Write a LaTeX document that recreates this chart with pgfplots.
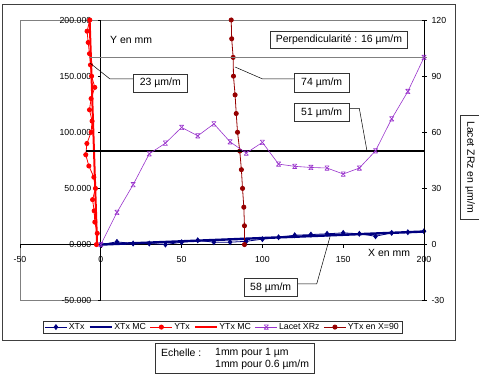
\documentclass[border=0pt]{standalone}
\usepackage{pgfplots}
\pgfplotsset{compat=1.18}
\usepackage{fontspec}
\setmainfont{Liberation Sans}

\definecolor{xtx}{RGB}{0,0,128}
\definecolor{ytx}{RGB}{255,0,0}
\definecolor{lacet}{RGB}{153,51,204}
\definecolor{ytxnn}{RGB}{150,0,0}
\definecolor{framegray}{RGB}{128,128,128}

% x marker closed by short bars top and bottom
\pgfdeclareplotmark{xbar}{%
  \pgfpathmoveto{\pgfqpoint{-\pgfplotmarksize}{-\pgfplotmarksize}}%
  \pgfpathlineto{\pgfqpoint{\pgfplotmarksize}{\pgfplotmarksize}}%
  \pgfpathmoveto{\pgfqpoint{-\pgfplotmarksize}{\pgfplotmarksize}}%
  \pgfpathlineto{\pgfqpoint{\pgfplotmarksize}{-\pgfplotmarksize}}%
  \pgfpathmoveto{\pgfqpoint{-\pgfplotmarksize}{\pgfplotmarksize}}%
  \pgfpathlineto{\pgfqpoint{\pgfplotmarksize}{\pgfplotmarksize}}%
  \pgfpathmoveto{\pgfqpoint{-\pgfplotmarksize}{-\pgfplotmarksize}}%
  \pgfpathlineto{\pgfqpoint{\pgfplotmarksize}{-\pgfplotmarksize}}%
  \pgfusepathqstroke}

\newcommand\smallfont{\fontsize{8.8}{10}\selectfont}
\newcommand\boxfont{\fontsize{10.5}{12.6}\selectfont}

% XTx : straightness along X (position mm, deviation um)
\pgfplotstableread{
x y
0 0
10 2.4
20 0.9
30 0.9
40 0
50 2.1
60 3.8
70 2.1
80 2.1
90 2.9
100 4.8
110 6.5
120 8.3
130 8.9
140 9.6
150 10.4
160 9.6
170 7.4
180 10.4
190 11.0
200 11.9
}\xtx

% YTx : straightness along Y (deviation um, position mm)
\pgfplotstableread{
x y
-2.7 0
-2.2 10
-3.7 20
-4.1 30
-5.1 40
-3.3 50
-4.3 60
-7.4 70
-9.3 80
-8.6 90
-6.0 100
-5.4 110
-7.0 120
-6.0 130
-3.7 140
-5.7 150
-6.4 160
-7.0 170
-7.8 180
-8.5 190
-6.8 200
}\ytx

% YTx measured at X=90
\pgfplotstableread{
x y
88.9 0
88.9 16.7
88.5 33.3
87.7 50
87.0 66.7
86.0 83.3
84.6 100
83.8 116.7
83.1 133.3
82.1 150
81.9 166.7
81.0 183.3
80.7 200
}\ytxnn

% Lacet XRz (um/m, right axis)
\pgfplotstableread{
x y
0 0
10 17.2
20 32
30 48.5
40 54.2
50 62.6
60 58.1
70 64.5
80 54.9
90 48.9
100 54.6
110 43.0
120 41.8
130 41.2
140 40.9
150 37.7
160 40.9
170 50.1
180 67.2
190 81.8
200 100
}\lacet

\begin{document}
\begin{tikzpicture}
\useasboundingbox (0,0) rectangle (479bp,377bp);

% frames (pixel-like coordinates, y downward)
\begin{scope}[shift={(0,377bp)}, x=1bp, y=-1bp]
  \draw[black!75, line width=0.8bp] (2,4) rectangle (455,340);
  \draw[framegray, line width=0.6bp] (20,20) rectangle (424,300.7);
\end{scope}

\begin{axis}[
  at={(20bp,76.3bp)}, anchor=south west,
  scale only axis, width=404bp, height=280.7bp,
  xmin=-50, xmax=200, ymin=-50, ymax=200,
  axis lines*=middle,
  hide obscured x ticks=false, hide obscured y ticks=false,
  axis line style={black, line width=0.7bp},
  tick style={black, line width=0.6bp},
  tick align=outside, major tick length=3bp,
  xtick={-50,0,...,200}, ytick={-50,0,...,200},
  /pgf/number format/assume math mode=true,
  ticklabel style={font=\smallfont},
  yticklabel style={xshift=-3bp, /pgf/number format/.cd, fixed, fixed zerofill, precision=3, 1000 sep={}},
  xticklabel style={yshift=-5bp},
  clip=false,
  legend columns=6,
  legend style={at={(0.501,-0.094)}, anchor=center, draw=black!80,
    font=\smallfont, inner xsep=1.5bp, inner ysep=1.5bp,
    nodes={inner xsep=1.5bp, inner ysep=1bp},
    /tikz/every even column/.append style={column sep=2.5bp}},
  legend image code/.code={%
    \draw[mark repeat=2,mark phase=2] plot coordinates {(0bp,0bp) (11bp,0bp) (22bp,0bp)};},
]
\addplot[xtx, line width=0.8bp, mark=diamond*, mark size=2.4bp] table {\xtx};
\addlegendentry{XTx}
\addplot[xtx, line width=2.4bp] coordinates {(0,0) (200,11.6)};
\addlegendentry{XTx MC}
\addplot[ytx, line width=0.8bp, mark=*, mark size=2.1bp] table {\ytx};
\addlegendentry{YTx}
\addplot[ytx, line width=2bp] coordinates {(-2.3,0) (-6.9,200)};
\addlegendentry{YTx MC}
\addlegendimage{lacet, line width=0.6bp, mark=xbar, mark size=2.2bp}
\addlegendentry{Lacet XRz}
\addplot[ytxnn, line width=0.8bp, mark=*, mark size=2.1bp] table {\ytxnn};
\addlegendentry{YTx en X=90}
\end{axis}

\begin{axis}[
  at={(20bp,76.3bp)}, anchor=south west,
  scale only axis, width=404bp, height=280.7bp,
  xmin=-50, xmax=200, ymin=-30, ymax=120,
  axis x line=none, axis y line*=right,
  axis line style={black, line width=0.7bp},
  tick style={black, line width=0.6bp},
  tick align=center, major tick length=5bp,
  ytick={-30,0,...,120},
  /pgf/number format/assume math mode=true,
  ticklabel style={font=\smallfont},
  yticklabel style={xshift=1.5bp},
  clip=false,
]
\addplot[black, line width=1.4bp, forget plot] coordinates {(-9.3,50) (200,50)};
\addplot[framegray, line width=1bp, forget plot] coordinates {(-7.5,100) (202,100)};
\addplot[lacet, line width=0.6bp, mark=xbar, mark size=2.2bp] table {\lacet};
\end{axis}

% annotations
\begin{scope}[shift={(0,377bp)}, x=1bp, y=-1bp, font=\boxfont]
  \tikzset{lbl/.style={draw=black!80, line width=0.6bp, fill=white, inner sep=0pt}}
  % leaders
  \draw[black, line width=0.5bp] (90.3,63.3) -- (110,79) -- (133.3,79);
  \draw[black, line width=0.5bp] (235,67) -- (262.7,79) -- (294.3,79);
  \draw[black, line width=0.5bp] (349,108.3) -- (359.3,108.3) -- (367,151);
  \draw[black, line width=0.5bp] (297.3,284) -- (316.7,284) -- (330,236.7);
  % boxes
  \node[lbl, minimum width=136.6bp, minimum height=16.6bp] at (339,40) {Perpendicularité : 16 µm/m};
  \node[lbl, minimum width=54bp, minimum height=18.3bp] at (160.3,83.2) {23 µm/m};
  \node[lbl, minimum width=54.7bp, minimum height=19bp] at (321.7,82.8) {74 µm/m};
  \node[lbl, minimum width=54.7bp, minimum height=18.4bp] at (321.7,112.5) {51 µm/m};
  \node[lbl, minimum width=53.3bp, minimum height=18.4bp] at (270.7,287.5) {58 µm/m};
  \node[lbl, rotate=-90, minimum width=104bp, minimum height=20bp] at (470,167) {Lacet ZRz en µm/m};
  % axis titles
  \node[anchor=west, inner sep=0pt] at (110,40) {Y en mm};
  \node[anchor=west, fill=white, inner xsep=1bp, inner ysep=0pt] at (367,252.7) {X en mm};
  % scale box
  \draw[black!80, line width=0.6bp] (155,343) rectangle (314,373);
  \node[anchor=west, inner sep=0pt] at (161,352.7) {Echelle :};
  \node[anchor=west, inner sep=0pt] at (215,352.7) {1mm pour 1 µm};
  \node[anchor=west, inner sep=0pt] at (215,364.3) {1mm pour 0.6 µm/m};
\end{scope}
\end{tikzpicture}
\end{document}
